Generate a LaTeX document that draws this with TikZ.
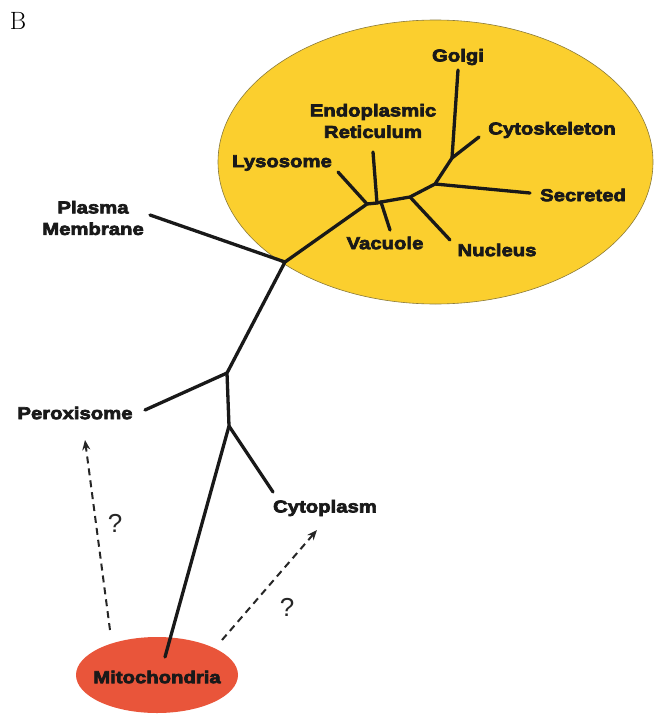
\documentclass[tikz,border=0pt]{standalone}
\usepackage{fontspec}
\newfontfamily\lblfont[FakeStretch=1.18,FakeBold=4]{Liberation Sans Bold}
\newfontfamily\qfont{Liberation Sans}
\usetikzlibrary{arrows.meta,shapes.geometric}
\definecolor{orgyellow}{HTML}{FBCF2E}
\definecolor{orgedge}{HTML}{8A7A3A}
\definecolor{mitored}{HTML}{E9553A}
\tikzset{
  lbl/.style={font=\lblfont\fontsize{17.2}{19.5}\selectfont, align=center, inner sep=0pt, text=black!90},
  tree/.style={line width=3.3pt, line cap=round, line join=round, black!90},
  maybe/.style={line width=2pt, dashed, dash pattern=on 7pt off 5pt, -{Stealth[length=10pt,width=8pt]}, black!85},
  qmark/.style={font=\qfont\fontsize{26}{28}\selectfont, inner sep=0pt, text=black!85}
}
\begin{document}
\begin{tikzpicture}[x=1pt,y=-1pt]
\path[use as bounding box] (0,0) rectangle (654,715);
% big yellow ellipse
\node[ellipse, draw=orgedge, line width=0.6pt, fill=orgyellow, minimum width=435pt, minimum height=284pt, inner sep=0pt] (secretory) at (435.5,162) {};
% mitochondria ellipse
\node[ellipse, fill=mitored, minimum width=162pt, minimum height=76pt, inner sep=0pt] (mitoshape) at (157,675) {};
% panel letter
\node[font=\rmfamily\fontsize{25}{27}\selectfont, inner sep=0pt] (panel) at (18,21) {B};

% junction coordinates
\coordinate (jG) at (452,158);
\coordinate (jS) at (435,184);
\coordinate (jN) at (410,197);
\coordinate (jV) at (381,202);
\coordinate (jER) at (377,203);
\coordinate (jL) at (367,204);
\coordinate (jPM) at (285,262);
\coordinate (jPX) at (227,373);
\coordinate (jCY) at (229,426);
% branch ends
\coordinate (eGolgi) at (458,70);
\coordinate (eCyto) at (479,137);
\coordinate (eSec) at (530,193);
\coordinate (eNuc) at (450,240);
\coordinate (eER) at (373,152);
\coordinate (eVac) at (390,230);
\coordinate (eLys) at (338,172);
\coordinate (ePM) at (150,215);
\coordinate (ePX) at (145,410);
\coordinate (eCY) at (273,492);
\coordinate (eMito) at (165,657);
\coordinate (dA0) at (110,630);
\coordinate (dA1) at (85,440);
\coordinate (dB0) at (222,640);
\coordinate (dB1) at (317,530);

% tree
\draw[tree] (eMito) -- (jCY) -- (jPX) -- (jPM) -- (jL) -- (jER) -- (jV) -- (jN) -- (jS) -- (jG) -- (eGolgi);
\draw[tree] (jG) -- (eCyto);
\draw[tree] (jS) -- (eSec);
\draw[tree] (jN) -- (eNuc);
\draw[tree] (jV) -- (eVac);
\draw[tree] (jER) -- (eER);
\draw[tree] (jL) -- (eLys);
\draw[tree] (jPM) -- (ePM);
\draw[tree] (jPX) -- (ePX);
\draw[tree] (jCY) -- (eCY);

% dashed arrows
\draw[maybe] (dA0) -- (dA1);
\draw[maybe] (dB0) -- (dB1);
\node[qmark] (q1) at (115,523) {?};
\node[qmark] (q2) at (287,607) {?};

% labels
\node[lbl] (golgi) at (458,57) {Golgi};
\node[lbl] (cytosk) at (552,130) {Cytoskeleton};
\node[lbl] (secreted) at (583,195) {Secreted};
\node[lbl] (nucleus) at (497,250) {Nucleus};
\node[lbl] (er) at (373,121) {Endoplasmic\\[2pt]Reticulum};
\node[lbl] (vacuole) at (385,243) {Vacuole};
\node[lbl] (lysosome) at (282,163) {Lysosome};
\node[lbl] (pm) at (93,218) {Plasma\\[2pt]Membrane};
\node[lbl] (perox) at (75,413) {Peroxisome};
\node[lbl] (cytoplasm) at (325,508) {Cytoplasm};
\node[lbl] (mito) at (157,677) {Mitochondria};
\end{tikzpicture}
\end{document}
